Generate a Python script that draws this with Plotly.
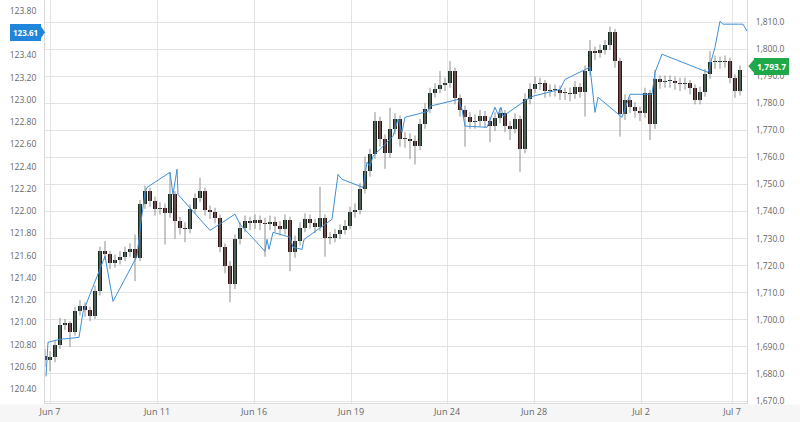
import plotly.graph_objects as go

# ---------------- data ----------------
candle_x = list(range(140))
opens = [120.70,120.66,120.69,120.80,120.98,120.99,120.91,121.10,121.15,121.11,
         121.06,121.28,121.64,121.61,121.53,121.56,121.59,121.63,121.66,121.58,
         122.06,122.18,122.09,122.02,122.03,121.98,122.15,121.91,121.85,121.84,
         122.02,122.12,122.18,122.01,121.99,121.94,121.68,121.51,121.34,121.75,
         121.85,121.91,121.89,121.92,121.89,121.88,121.90,121.87,121.84,121.92,
         121.63,121.73,121.85,121.93,121.89,121.86,121.94,121.76,121.76,121.79,
         121.83,121.87,121.99,122.01,122.20,122.36,122.51,122.81,122.65,122.52,
         122.74,122.83,122.65,122.65,122.63,122.59,122.78,122.92,123.06,123.10,
         123.13,123.15,123.26,123.02,122.91,122.85,122.80,122.81,122.86,122.81,
         122.77,122.84,122.88,122.77,122.74,122.83,122.56,123.01,123.10,123.14,
         123.15,123.08,123.09,123.09,123.06,123.06,123.05,123.12,123.07,123.26,
         123.44,123.42,123.45,123.49,123.61,123.35,122.87,123.00,122.94,122.90,
         122.88,123.06,122.78,123.19,123.16,123.17,123.17,123.15,123.14,123.15,
         123.11,123.00,123.07,123.23,123.34,123.34,123.34,123.35,123.20,123.08]
closes = [120.66,120.69,120.80,120.98,120.99,120.91,121.10,121.15,121.11,121.06,
          121.28,121.64,121.61,121.53,121.56,121.59,121.63,121.66,121.58,122.06,
          122.18,122.09,122.02,122.03,121.98,122.15,121.91,121.85,121.84,122.02,
          122.12,122.18,122.01,121.99,121.94,121.68,121.51,121.34,121.75,121.85,
          121.91,121.89,121.92,121.89,121.88,121.90,121.87,121.84,121.92,121.63,
          121.73,121.85,121.93,121.89,121.86,121.94,121.76,121.76,121.79,121.83,
          121.87,121.99,122.01,122.20,122.36,122.51,122.81,122.65,122.52,122.74,
          122.83,122.65,122.65,122.63,122.59,122.78,122.92,123.06,123.10,123.13,
          123.15,123.26,123.02,122.91,122.85,122.80,122.81,122.86,122.81,122.77,
          122.84,122.88,122.77,122.74,122.83,122.56,123.01,123.10,123.14,123.15,
          123.08,123.09,123.09,123.06,123.06,123.05,123.12,123.07,123.26,123.44,
          123.42,123.45,123.49,123.61,123.35,122.87,123.00,122.94,122.90,122.88,
          123.06,122.78,123.19,123.16,123.17,123.17,123.15,123.14,123.15,123.11,
          123.00,123.07,123.23,123.34,123.34,123.34,123.35,123.20,123.08,123.27]
highs = [120.76,120.74,120.84,121.04,121.03,121.01,121.14,121.20,121.18,121.14,
         121.33,121.68,121.73,121.64,121.61,121.64,121.68,121.71,121.79,122.10,
         122.23,122.21,122.13,122.08,122.07,122.35,122.18,121.95,121.90,122.06,
         122.16,122.30,122.21,122.05,122.03,121.97,121.71,121.55,121.79,121.90,
         121.96,121.95,121.97,121.96,121.94,121.96,121.95,121.91,121.97,121.95,
         121.78,121.90,121.98,121.97,121.93,122.22,121.97,121.81,121.84,121.88,
         121.92,122.04,122.07,122.25,122.49,122.56,122.89,122.85,122.69,122.93,
         122.88,122.86,122.71,122.70,122.68,122.83,122.97,123.11,123.15,123.26,
         123.20,123.35,123.29,123.05,122.95,122.89,122.87,122.91,122.90,122.85,
         122.89,122.93,122.91,122.81,122.88,122.86,123.06,123.15,123.21,123.20,
         123.18,123.14,123.14,123.13,123.11,123.11,123.17,123.15,123.31,123.54,
         123.48,123.50,123.54,123.66,123.64,123.38,123.05,123.03,122.98,122.94,
         123.11,123.09,123.27,123.22,123.22,123.22,123.21,123.20,123.20,123.18,
         123.14,123.12,123.28,123.44,123.40,123.39,123.40,123.38,123.23,123.31]
lows = [120.60,120.56,120.64,120.76,120.93,120.78,120.88,121.06,121.05,121.01,
        121.03,121.24,121.56,121.48,121.49,121.52,121.55,121.59,121.37,121.55,
        122.02,122.04,121.96,121.97,121.70,121.94,121.75,121.79,121.72,121.80,
        121.98,122.08,121.96,121.93,121.89,121.63,121.44,121.18,121.30,121.70,
        121.81,121.83,121.84,121.83,121.59,121.83,121.81,121.78,121.79,121.46,
        121.58,121.69,121.81,121.84,121.80,121.82,121.59,121.70,121.72,121.75,
        121.79,121.84,121.94,121.97,122.16,122.31,122.47,122.58,122.38,122.48,
        122.69,122.58,122.57,122.47,122.42,122.55,122.74,122.88,123.02,123.06,
        123.08,123.11,122.96,122.85,122.58,122.74,122.74,122.76,122.75,122.62,
        122.72,122.79,122.71,122.64,122.70,122.35,122.52,122.96,123.06,123.09,
        123.02,123.03,123.03,123.00,123.00,122.99,123.01,123.02,122.85,123.22,
        123.36,123.38,123.41,123.45,123.29,122.67,122.82,122.88,122.84,122.81,
        122.84,122.64,122.74,123.10,123.11,123.11,123.09,123.08,123.09,123.05,
        122.96,122.96,123.03,123.19,123.28,123.28,123.29,123.15,123.02,123.04]

line_x = [0.2,0.6,3.0,6.8,7.6,12.0,13.6,18.4,19.0,20.0,20.4,25.0,25.6,26.4,26.6,
          33.0,38.0,39.0,44.0,44.4,44.8,45.6,49.0,49.6,51.4,51.8,57.4,58.6,59.4,
          63.6,64.4,65.0,65.6,69.6,70.6,71.4,72.0,76.6,77.0,82.6,83.4,84.0,84.6,
          88.4,90.0,90.6,91.2,91.6,96.4,97.6,103.0,104.0,109.0,110.0,110.6,115.4,
          117.0,121.4,122.0,123.4,132.6,134.0,135.0,135.6,139.6,140.4]
line_y = [1679.1,1691.7,1692.8,1693.5,1702.8,1723.5,1706.8,1723.5,1733.4,1747.1,
          1748.9,1754.5,1746.3,1755.6,1746.3,1733.0,1739.0,1735.3,1725.3,1729.7,
          1726.0,1732.3,1730.5,1726.8,1726.0,1729.7,1737.1,1753.7,1751.9,1748.9,
          1758.2,1756.7,1760.4,1767.8,1774.1,1769.3,1774.8,1777.0,1778.9,1781.4,
          1777.8,1771.5,1771.5,1771.1,1778.5,1775.9,1778.5,1775.2,1781.4,1782.6,
          1785.1,1788.8,1793.3,1776.6,1782.2,1774.8,1783.3,1783.3,1791.4,1798.1,
          1791.4,1800.7,1810.3,1809.2,1809.2,1806.6]

date_ticks = [1.0, 22.4, 41.8, 61.2, 80.4, 97.8, 119.2, 137.4]
date_labels = ["Jun 7", "Jun 11", "Jun 16", "Jun 19", "Jun 24", "Jun 28", "Jul 2", "Jul 7"]
left_ticks = [120.4,120.6,120.8,121.0,121.2,121.4,121.6,121.8,122.0,122.2,
              122.4,122.6,122.8,123.0,123.2,123.4,123.8]
right_ticks = [1670,1680,1690,1700,1710,1720,1730,1740,1750,1760,1770,1780,1790,1800,1810]
left_badge = 123.61
right_badge = 1793.7

# ---------------- figure ----------------
FONT = "Open Sans"
fig = go.Figure()

# wicks (grey vertical segments high-low)
wx, wy = [], []
for xi, h, l in zip(candle_x, highs, lows):
    wx += [xi, xi, None]
    wy += [l, h, None]
fig.add_trace(go.Scatter(x=wx, y=wy, mode="lines", line=dict(color="#8f8f8f", width=1),
                         showlegend=False, hoverinfo="skip"))

# bodies (dark bars from open to close)
body_base = [min(o, c) for o, c in zip(opens, closes)]
body_h = [max(abs(c - o), 0.008) for o, c in zip(opens, closes)]
body_col = ["#17291d" if c >= o else "#351313" for o, c in zip(opens, closes)]
fig.add_trace(go.Bar(x=candle_x, y=body_h, base=body_base, width=0.65,
                     marker=dict(color=body_col, line=dict(width=0)),
                     showlegend=False, hoverinfo="skip"))

fig.add_trace(go.Scatter(
    x=line_x, y=line_y, mode="lines", yaxis="y2",
    line=dict(color="#3d8fd8", width=1), showlegend=False, hoverinfo="skip"))

fig.update_layout(
    width=800, height=422,
    margin=dict(l=45, r=53, t=0, b=19),
    paper_bgcolor="white", plot_bgcolor="white",
    font=dict(family=FONT, color="#666666", size=9),
    showlegend=False,
    xaxis=dict(range=[0, 140.4], tickvals=date_ticks, ticktext=date_labels,
               showgrid=True, gridcolor="#e3e3e3", gridwidth=1,
               showline=True, linecolor="#d8d8d8", mirror=False,
               ticks="", ticklen=0, zeroline=False,
               tickfont=dict(size=9, color="#666666", family=FONT),
               fixedrange=True),
    yaxis=dict(range=[120.274, 123.899], tickvals=left_ticks,
               ticktext=[f"{v:.2f}" for v in left_ticks],
               showgrid=False, zeroline=False, showline=True, linecolor="#d8d8d8",
               ticks="", ticklen=0, side="left",
               tickfont=dict(size=8.5, color="#666666", family=FONT),
               ticklabelstandoff=6),
    yaxis2=dict(range=[1669.26, 1818.13], tickvals=right_ticks,
                ticktext=[f"{v:,.1f}" for v in right_ticks],
                overlaying="y", side="right", showgrid=True, gridcolor="#e3e3e3",
                zeroline=False, showline=True, linecolor="#d8d8d8",
                ticks="", ticklen=0,
                tickfont=dict(size=8.5, color="#666666", family=FONT),
                ticklabelstandoff=6),
    hovermode=False,
    bargap=0,
)

# light strip below the plot
fig.add_shape(type="rect", xref="paper", yref="paper", x0=-0.08, x1=1.09, y0=-0.06, y1=-0.004,
              fillcolor="#f6f6f6", line=dict(width=0), layer="below")

# price badges
fig.add_annotation(xref="paper", yref="y", x=-0.0057, y=left_badge, xanchor="right",
                   text=f"<b>{left_badge:.2f}</b>", showarrow=False,
                   font=dict(color="white", size=8, family=FONT),
                   bgcolor="#1f86db", borderpad=2, bordercolor="#1f86db")
fig.add_shape(type="path", xref="paper", yref="y",
              path=f"M -0.0060 {left_badge+0.055} L 0.0000 {left_badge} L -0.0060 {left_badge-0.055} Z",
              fillcolor="#1f86db", line=dict(width=0))
fig.add_annotation(xref="paper", yref="y2", x=1.0100, y=right_badge, xanchor="left",
                   text=f"<b>{right_badge:,.1f}</b>", showarrow=False,
                   font=dict(color="white", size=8.5, family=FONT),
                   bgcolor="#1ea84a", borderpad=2, bordercolor="#1ea84a")
fig.add_shape(type="path", xref="paper", yref="y2",
              path=f"M 1.0105 {right_badge+2.6} L 1.0020 {right_badge} L 1.0105 {right_badge-2.6} Z",
              fillcolor="#1ea84a", line=dict(width=0))

fig.write_html("out.html", config={"displayModeBar": False, "staticPlot": True},
               post_script="document.body.style.margin='0';document.body.style.padding='0';")
